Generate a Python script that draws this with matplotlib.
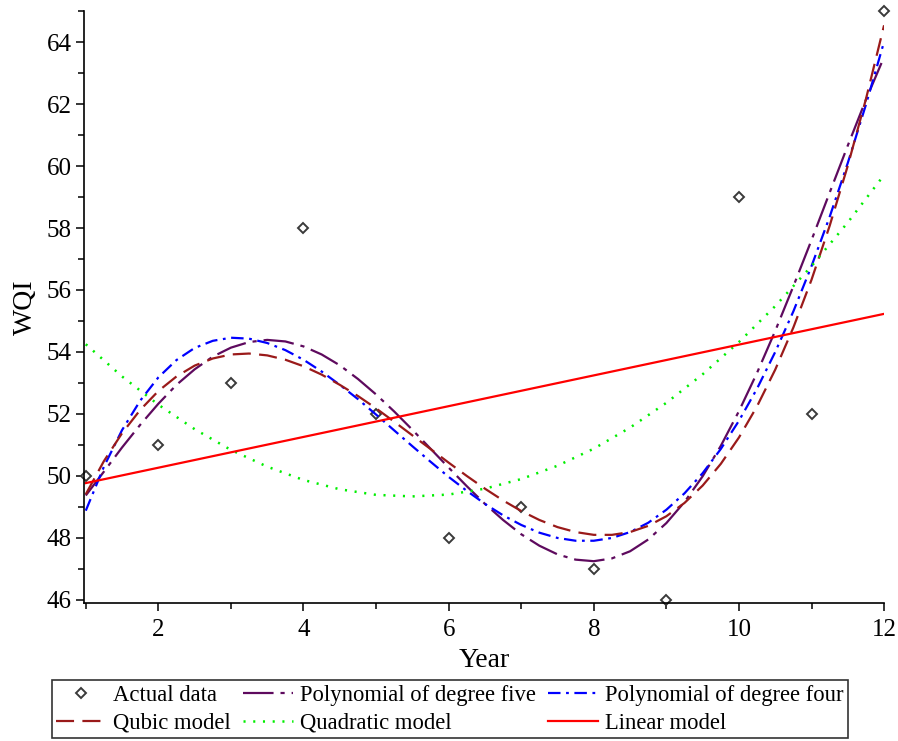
import numpy as np
import matplotlib
matplotlib.use("Agg")
import matplotlib.pyplot as plt
from matplotlib.ticker import MultipleLocator

plt.rcParams['font.family'] = ['Liberation Serif', 'DejaVu Serif']
plt.rcParams['lines.scale_dashes'] = False

# observed data
year = [1, 2, 3, 4, 5, 6, 7, 8, 9, 10, 11, 12]
wqi = [50, 51, 53, 58, 52, 48, 49, 47, 46, 59, 52, 65]

# model curves (year step 0.25)
fit_year = np.arange(1, 12.001, 0.25)
quintic = [49.37, 50.14, 50.92, 51.65, 52.33, 52.94, 53.44, 53.85, 54.14, 54.32, 54.39, 54.34,
           54.18, 53.92, 53.57, 53.13, 52.63, 52.08, 51.49, 50.88, 50.27, 49.67, 49.10, 48.58,
           48.12, 47.75, 47.47, 47.30, 47.25, 47.34, 47.57, 47.95, 48.48, 49.16, 49.99, 50.97,
           52.09, 53.33, 54.68, 56.12, 57.61, 59.14, 60.66, 62.14, 63.52]
quartic = [48.88, 50.30, 51.48, 52.43, 53.18, 53.74, 54.13, 54.36, 54.46, 54.43, 54.29, 54.06,
           53.75, 53.37, 52.94, 52.48, 51.98, 51.47, 50.96, 50.46, 49.97, 49.52, 49.10, 48.73,
           48.42, 48.17, 48.00, 47.91, 47.91, 48.00, 48.19, 48.49, 48.91, 49.44, 50.09, 50.87,
           51.78, 52.82, 54.00, 55.31, 56.77, 58.36, 60.10, 61.98, 64.01]
cubic = [49.41, 50.48, 51.38, 52.13, 52.74, 53.21, 53.56, 53.79, 53.92, 53.95, 53.89, 53.75,
         53.54, 53.27, 52.94, 52.58, 52.18, 51.75, 51.31, 50.87, 50.43, 50.00, 49.59, 49.21,
         48.87, 48.58, 48.35, 48.19, 48.10, 48.10, 48.19, 48.39, 48.70, 49.13, 49.69, 50.39,
         51.24, 52.25, 53.43, 54.79, 56.33, 58.07, 60.01, 62.16, 64.54]
# year step 0.5
quad_year = np.arange(1, 12.001, 0.5)
quadratic = [54.25, 53.21, 52.30, 51.51, 50.84, 50.30, 49.87, 49.57, 49.39, 49.34, 49.40, 49.59,
             49.90, 50.33, 50.88, 51.56, 52.36, 53.28, 54.32, 55.48, 56.77, 58.18, 59.71]
lin_year = [1, 12]
linear = [49.77, 55.23]

fig = plt.figure(figsize=(8.98, 7.41), dpi=100)
ax = fig.add_axes([0.0935, 0.1866, 0.891, 0.7985])

h_data, = ax.plot(year, wqi, linestyle='none', marker='D', ms=5.5, mfc='white',
                  mec='#3a3a3a', mew=1.4, clip_on=False, label='Actual data')
h5, = ax.plot(fit_year, quintic, color='#5e0a5e', lw=1.6, dashes=(22, 5, 3, 5),
              label='Polynomial of degree five')
h4, = ax.plot(fit_year, quartic, color='#0000ff', lw=1.6, dashes=(9, 4, 2, 4),
              label='Polynomial of degree four')
h3, = ax.plot(fit_year, cubic, color='#9a1a1a', lw=1.6, dashes=(13, 6),
              label='Qubic model')
h2, = ax.plot(quad_year, quadratic, color='#00ee00', lw=1.8, dashes=(1.5, 5.5),
              label='Quadratic model')
h1, = ax.plot(lin_year, linear, color='#ff0000', lw=1.6, label='Linear model')

ax.set_xlim(0.975, 12)
ax.set_ylim(45.91, 65)
ax.xaxis.set_major_locator(MultipleLocator(2))
ax.xaxis.set_minor_locator(MultipleLocator(1))
ax.yaxis.set_major_locator(MultipleLocator(2))
ax.yaxis.set_minor_locator(MultipleLocator(1))
ax.spines['top'].set_visible(False)
ax.spines['right'].set_visible(False)
for s in ['left', 'bottom']:
    ax.spines[s].set_linewidth(1.2)
ax.tick_params(which='major', direction='out', length=6, width=1.1, labelsize=18, pad=3)
ax.tick_params(axis='x', which='major', pad=6)
ax.tick_params(which='minor', direction='out', length=4, width=1.1)
ax.set_xlabel('Year', fontsize=20, labelpad=5)
ax.set_ylabel('WQI', fontsize=20, labelpad=6)

leg = fig.legend([h_data, h3, h5, h2, h4, h1],
                 ['Actual data', 'Qubic model', 'Polynomial of degree five', 'Quadratic model',
                  'Polynomial of degree four', 'Linear model'],
                 ncol=3, loc='lower center', bbox_to_anchor=(0.501, 0.004), borderaxespad=0,
                 fontsize=16.3, frameon=True, fancybox=False, edgecolor='black',
                 handlelength=2.2, handletextpad=0.3, columnspacing=0.55, borderpad=0.2,
                 labelspacing=0.3)
leg.get_frame().set_linewidth(1.2)

fig.savefig('out.png', dpi=100)
